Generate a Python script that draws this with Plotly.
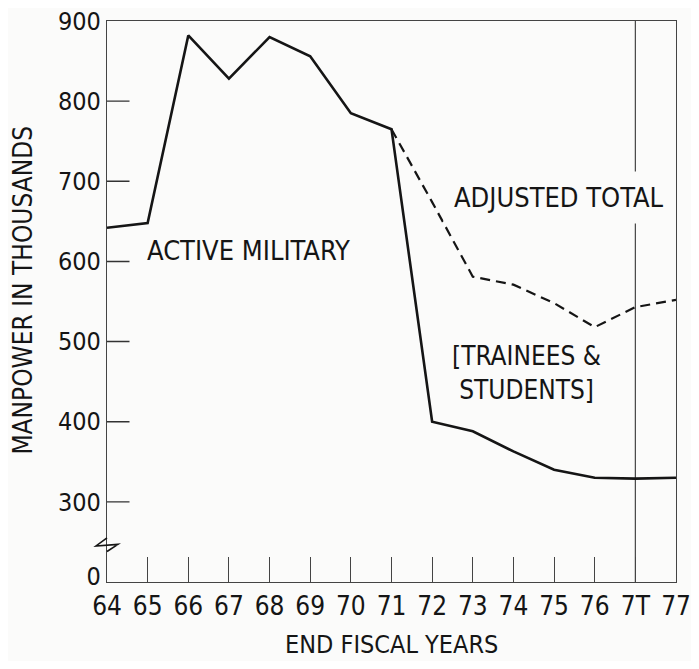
import plotly.graph_objects as go

# 数据
years = ['64', '65', '66', '67', '68', '69', '70', '71', '72', '73', '74', '75', '76', '7T', '77']
active_military = [642, 648, 882, 828, 880, 856, 785, 765, 400, 388, 363, 340, 330, 329, 330]
adj_years = ['71', '72', '73', '74', '75', '76', '7T', '77']
adjusted_total = [765, 674, 581, 571, 548, 518, 543, 552]
y_ticks = [207, 300, 400, 500, 600, 700, 800, 900]
y_ticktext = ['0', '300', '400', '500', '600', '700', '800', '900']

ink = '#151515'
bg = '#fbfbfa'
narrow = 'DejaVu Sans Condensed, Liberation Sans Narrow, sans-serif'

fig = go.Figure()
fig.add_trace(go.Scatter(x=years, y=active_military, mode='lines',
                         line=dict(color=ink, width=2.6), name='Active Military'))
fig.add_trace(go.Scatter(x=adj_years, y=adjusted_total, mode='lines',
                         line=dict(color=ink, width=2.2, dash='10px,6px'), name='Adjusted Total'))

# 7T 竖线
fig.add_shape(type='line', x0='7T', x1='7T', y0=200, y1=900, xref='x', yref='y',
              line=dict(color='#444', width=1.2), layer='below')
# 坐标轴断开符号
fig.add_shape(type='path', xref='paper', yref='paper',
              path='M 0,0.0786 L -0.0193,0.0643 L 0.0193,0.0671 L 0,0.0543',
              line=dict(color=ink, width=1.6))

# y 轴内侧刻度（300-800），用无箭头的注释线画出
for v in y_ticks[1:-1]:
    fig.add_annotation(x=0, y=v, xref='paper', yref='y', text='', showarrow=True,
                       arrowhead=0, arrowwidth=1.4, arrowcolor='#333',
                       ax=24, ay=0, axref='pixel', ayref='pixel', standoff=0, startstandoff=0)

fig.add_annotation(text='ACTIVE MILITARY', x=0.93, y=614, xref='x', yref='y',
                   xanchor='left', showarrow=False, font=dict(family=narrow, size=27, color=ink))
fig.add_annotation(text='ADJUSTED TOTAL', x=11.11, y=680, xref='x', yref='y',
                   showarrow=False, bgcolor=bg, borderpad=10,
                   font=dict(family=narrow, size=27, color=ink))
fig.add_annotation(text='[TRAINEES &<br>STUDENTS]', x=10.33, y=461, xref='x', yref='y',
                   showarrow=False, align='center', font=dict(family=narrow, size=26, color=ink))
fig.add_annotation(text='MANPOWER IN THOUSANDS', x=-0.177, y=0.52, xref='paper', yref='paper',
                   textangle=-90, showarrow=False, font=dict(family=narrow, size=26, color=ink))
fig.add_annotation(text='END FISCAL YEARS', x=0.5, y=0, xref='paper', yref='paper',
                   yanchor='bottom', yshift=-78, showarrow=False, borderpad=0,
                   font=dict(family=narrow, size=25, color=ink))

# 页面 body 有 8px 外边距，图形尺寸据此缩小
fig.update_layout(
    width=683, height=653,
    margin=dict(l=99, r=15, t=13, b=79),
    paper_bgcolor=bg, plot_bgcolor=bg,
    showlegend=False,
    xaxis=dict(type='category', range=[0, 14], showgrid=False, zeroline=False, automargin=False,
               showline=True, mirror=True, linecolor='#444', linewidth=1.2,
               ticks='inside', ticklen=25, tickwidth=1.2, tickcolor='#444',
               ticklabelstandoff=1,
               tickfont=dict(family=narrow, size=26, color=ink)),
    yaxis=dict(range=[200, 900], tickmode='array', tickvals=y_ticks, ticktext=y_ticktext,
               automargin=False, showgrid=False, zeroline=False, ticklabeloverflow='allow',
               showline=True, mirror=True, linecolor='#444', linewidth=1.2,
               ticks='', tickfont=dict(family=narrow, size=25, color=ink)),
)

fig.write_html('out.html')
